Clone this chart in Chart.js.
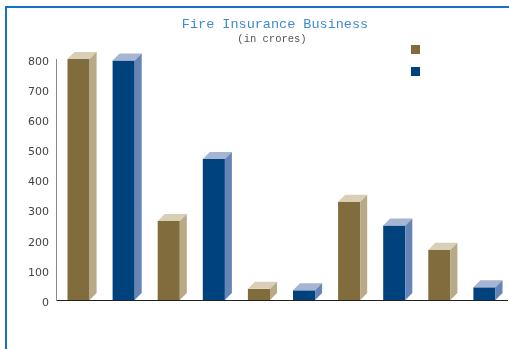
<!DOCTYPE html>
<html lang="en">
<head>
    <meta charset="UTF-8">
    <title>Fire Insurance Business</title>
    <script src="https://cdn.jsdelivr.net/npm/chart.js@4.4.1/dist/chart.umd.min.js"></script>
    <style>
        body { margin: 0; background: #fff; }
        canvas { display: block; }
    </style>
</head>
<body>
<canvas id="fireChart" width="509" height="349"></canvas>
<script>
    // data (in crores)
    const categories = ['', '', '', '', ''];
    const seriesA = [800, 262, 37, 326, 167];
    const seriesB = [795, 468, 32, 247, 42];
    const yTicks = [0, 100, 200, 300, 400, 500, 600, 700, 800];

    const titleText = 'Fire Insurance Business';
    const subtitleText = '(in crores)';

    // front / top / side shades for the fake 3D look
    const shadesA = { front: '#806c3c', top: '#d8cfb6', side: '#b9aa87' };
    const shadesB = { front: '#00427d', top: '#a6b5d3', side: '#6685b6' };
    const depth = 7;

    const extras = {
        id: 'extras',
        beforeDraw(chart) {
            const ctx = chart.ctx;
            // blue frame, only top and left edges are visible
            ctx.save();
            ctx.fillStyle = '#1870c0';
            ctx.fillRect(5, 6, chart.width - 5, 2);
            ctx.fillRect(5, 6, 2, chart.height - 6);
            ctx.restore();
        },
        afterDatasetsDraw(chart) {
            const ctx = chart.ctx;
            chart.data.datasets.forEach((ds, i) => {
                const shades = ds.shades;
                chart.getDatasetMeta(i).data.forEach(bar => {
                    const p = bar.getProps(['x', 'y', 'base', 'width'], true);
                    const l = p.x - p.width / 2, r = p.x + p.width / 2;
                    ctx.save();
                    ctx.fillStyle = shades.top;
                    ctx.beginPath();
                    ctx.moveTo(l, p.y);
                    ctx.lineTo(l + depth, p.y - depth);
                    ctx.lineTo(r + depth, p.y - depth);
                    ctx.lineTo(r, p.y);
                    ctx.closePath();
                    ctx.fill();
                    ctx.fillStyle = shades.side;
                    ctx.beginPath();
                    ctx.moveTo(r, p.y);
                    ctx.lineTo(r + depth, p.y - depth);
                    ctx.lineTo(r + depth, p.base - depth);
                    ctx.lineTo(r, p.base);
                    ctx.closePath();
                    ctx.fill();
                    ctx.restore();
                });
            });
        },
        afterDraw(chart) {
            const ctx = chart.ctx;
            ctx.save();
            ctx.textAlign = 'center';
            ctx.textBaseline = 'middle';
            ctx.fillStyle = '#3f8ad0';
            ctx.font = '13.5px "Liberation Mono", monospace';
            ctx.fillText(titleText, 275, 24);
            ctx.fillStyle = '#555';
            ctx.font = '10.5px "Liberation Mono", monospace';
            ctx.fillText(subtitleText, 272, 39);
            // legend boxes (no labels in the original)
            chart.data.datasets.forEach((ds, i) => {
                ctx.fillStyle = ds.backgroundColor;
                ctx.fillRect(411, 45 + i * 22, 9, 9);
            });
            ctx.restore();
        }
    };

    new Chart(document.getElementById('fireChart'), {
        type: 'bar',
        data: {
            labels: categories,
            datasets: [{
                data: seriesA,
                backgroundColor: shadesA.front,
                shades: shadesA,
                categoryPercentage: 1.0,
                barPercentage: 0.49
            }, {
                data: seriesB,
                backgroundColor: shadesB.front,
                shades: shadesB,
                categoryPercentage: 1.0,
                barPercentage: 0.49
            }]
        },
        options: {
            responsive: false,
            animation: false,
            layout: { padding: { top: 59, right: 2, bottom: 49, left: 0 } },
            plugins: {
                legend: { display: false },
                title: { display: false },
                tooltip: { enabled: false }
            },
            scales: {
                x: {
                    grid: { display: false, drawTicks: false },
                    ticks: { display: false },
                    border: { color: '#222', width: 1 },
                    afterFit: s => { s.height = 0; }
                },
                y: {
                    min: 0,
                    max: 800,
                    afterBuildTicks: s => { s.ticks = yTicks.map(v => ({ value: v })); },
                    grid: { display: false, drawTicks: false },
                    border: { color: '#8a8a8a', width: 1 },
                    ticks: {
                        padding: 7,
                        labelOffset: 3,
                        color: '#444',
                        font: { family: 'DejaVu Sans', size: 11 }
                    },
                    afterFit: s => { s.width = 56; }
                }
            }
        },
        plugins: [extras]
    });
</script>
</body>
</html>
